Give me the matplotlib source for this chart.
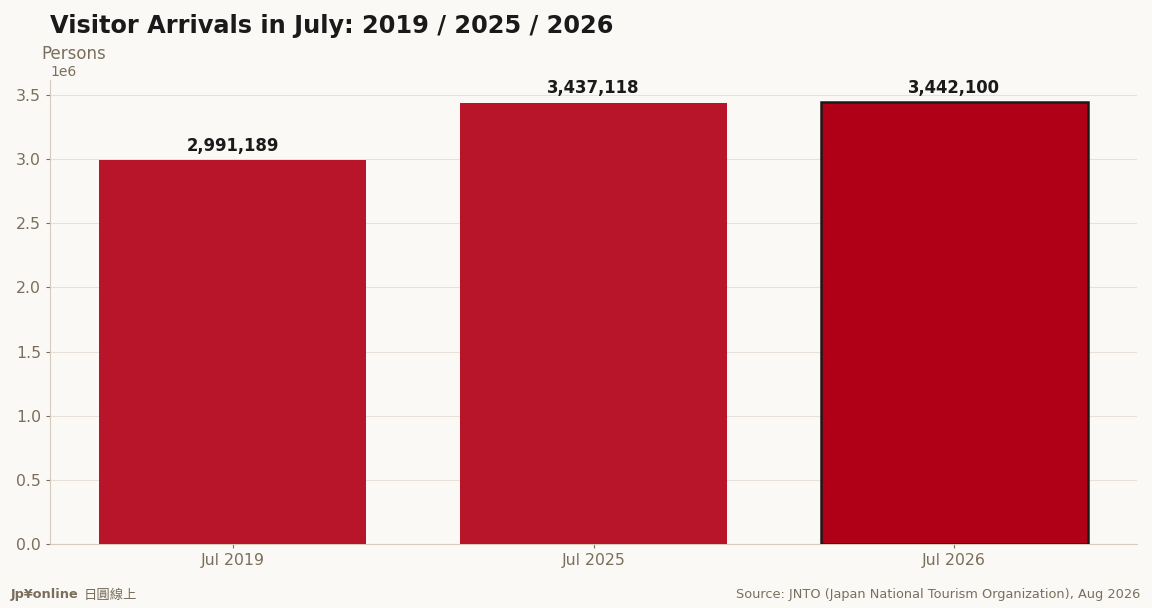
import matplotlib
matplotlib.use("Agg")
import matplotlib.pyplot as plt

periods = ["Jul 2019", "Jul 2025", "Jul 2026"]
arrivals = [2991189, 3437118, 3442100]
bar_colors = ["#B8152B", "#B8152B", "#B00018"]
edge_colors = ["none", "none", "#1A1A1A"]

BG = "#FBF9F6"
MUTED = "#7A6E5C"

plt.rcParams['font.family'] = ['DejaVu Sans', 'Noto Sans CJK TC']

fig = plt.figure(figsize=(11.52, 6.08), dpi=100, facecolor=BG)
ax = fig.add_axes([0.0434, 0.105, 0.9436, 0.763])
ax.set_facecolor(BG)

x = range(len(periods))
bars = ax.bar(x, arrivals, width=0.74, color=bar_colors,
              edgecolor=edge_colors, linewidth=[0, 0, 1.8], zorder=3)

# value labels on top of each bar
for b, v in zip(bars, arrivals):
    ax.annotate(f"{v:,}", (b.get_x() + b.get_width() / 2, v),
                xytext=(0, 4), textcoords="offset points",
                ha="center", va="bottom", fontsize=11.9,
                fontweight="bold", color="#1A1A1A")

ax.set_xticks(list(x))
ax.set_xticklabels(periods)
ax.set_ylim(0, max(arrivals) * 1.05)

ax.grid(axis="y", color="#E9E1D8", linewidth=0.8, zorder=0)
ax.set_axisbelow(True)
for s in ["top", "right"]:
    ax.spines[s].set_visible(False)
for s in ["left", "bottom"]:
    ax.spines[s].set_color("#D6CCBC")
ax.tick_params(colors=MUTED, labelsize=11.3, length=3)
ax.yaxis.get_offset_text().set_color(MUTED)
ax.yaxis.get_offset_text().set_fontsize(10)

fig.text(0.0434, 0.958, "Visitor Arrivals in July: 2019 / 2025 / 2026",
         fontsize=17.3, fontweight="bold", color="#1A1A1A", va="center")
fig.text(0.0356, 0.911, "Persons", fontsize=12, color=MUTED, va="center")

# footer
fig.text(0.0095, 0.022, "Jp¥online", fontsize=9.3, fontweight="bold",
         color=MUTED, va="center")
fig.text(0.0725, 0.022, "日圓線上", fontsize=9.6, color=MUTED, va="center",
         fontweight="medium", family=['Noto Sans CJK TC', 'DejaVu Sans'])
fig.text(0.990, 0.022, "Source: JNTO (Japan National Tourism Organization), Aug 2026",
         fontsize=9.3, color=MUTED, ha="right", va="center")

fig.savefig("out.png", dpi=100, facecolor=BG)
